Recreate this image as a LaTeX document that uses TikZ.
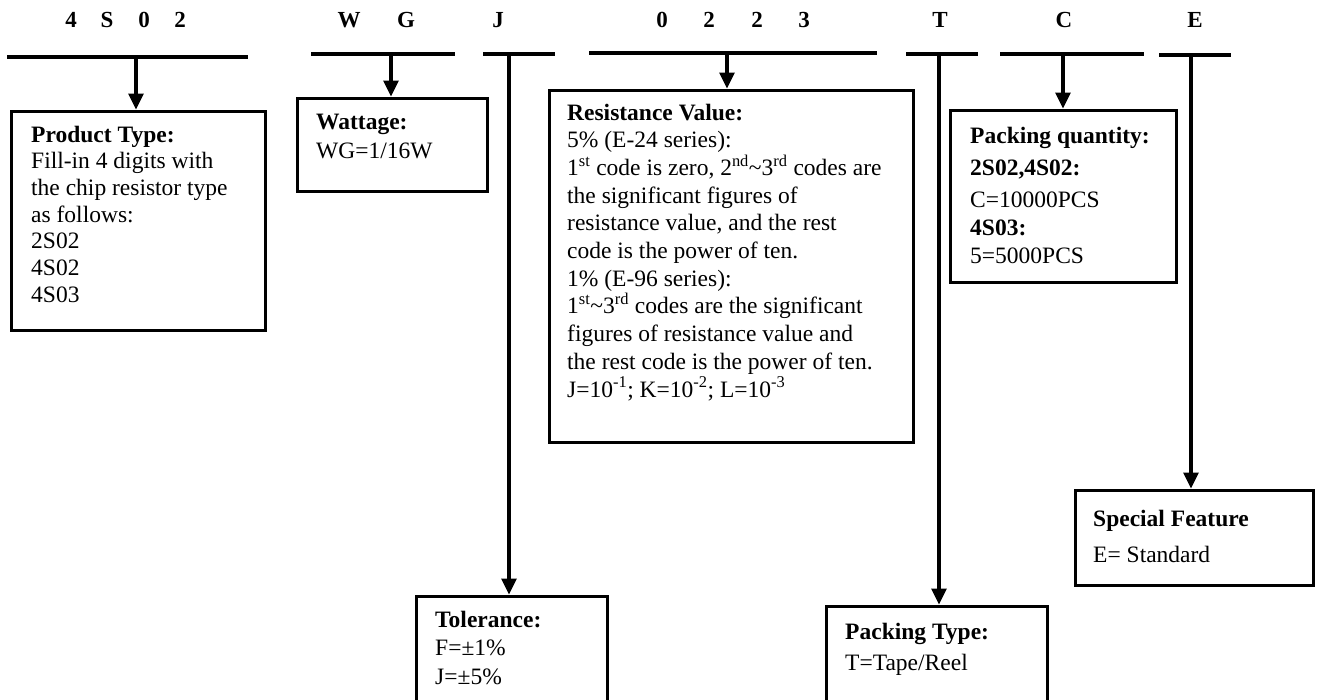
\documentclass[tikz,border=0pt]{standalone}
\usepackage{fontspec}
\setmainfont{Liberation Serif}
\usetikzlibrary{arrows.meta}
\tikzset{
  box/.style={draw, line width=3.2pt, anchor=north west, inner sep=0pt},
  hline/.style={line width=3.4pt},
  arr/.style={line width=3.2pt, -{Triangle[length=16pt,width=15pt]}},
  txt/.style={anchor=base west, inner sep=0pt, font=\fontsize{23.5}{27}\selectfont},
  btxt/.style={anchor=base west, inner sep=0pt, font=\fontsize{23.5}{27}\selectfont\bfseries},
  hdr/.style={anchor=base, inner sep=0pt, font=\fontsize{23}{27}\selectfont\bfseries},
}
\begin{document}
\begin{tikzpicture}[x=1pt,y=-1pt]
\useasboundingbox (0,0) rectangle (1320,699);
\clip (0,0) rectangle (1320,699);

% header characters
\foreach \c/\x in {4/71,S/107,0/144,2/180,W/349,G/406,J/498,0/662,2/709,2/757,3/804,T/940,C/1064,E/1195}
  \node[hdr] at (\x,27) {\c};

% header lines
\coordinate (l1a) at (7,57);   \coordinate (l1b) at (248,57);
\coordinate (l2a) at (311,54); \coordinate (l2b) at (455,54);
\coordinate (l3a) at (483,54); \coordinate (l3b) at (555,54);
\coordinate (l4a) at (589,53); \coordinate (l4b) at (877,53);
\coordinate (l5a) at (906,54); \coordinate (l5b) at (978,54);
\coordinate (l6a) at (1000,54);\coordinate (l6b) at (1144,54);
\coordinate (l7a) at (1159,55);\coordinate (l7b) at (1231,55);
\foreach \i in {1,...,7} \draw[hline] (l\i a) -- (l\i b);

% connector start points
\coordinate (m1) at (136,57);
\coordinate (m2) at (391,54);
\coordinate (m3) at (509,54);
\coordinate (m4) at (727,53);
\coordinate (m5) at (939,54);
\coordinate (m6) at (1063,54);
\coordinate (m7) at (1191,55);

% boxes
\node[box, minimum width=254pt, minimum height=219pt] (b1) at (9.5,109.5) {};
\node[box, minimum width=190pt, minimum height=93pt]  (bw) at (295.5,96.5) {};
\node[box, minimum width=364pt, minimum height=352pt] (br) at (547.5,88.5) {};
\node[box, minimum width=226pt, minimum height=172pt] (bq) at (948.5,108.5) {};
\node[box, minimum width=191pt, minimum height=140pt] (bt) at (414.5,594.5) {};
\node[box, minimum width=221pt, minimum height=130pt] (bp) at (824.5,604.5) {};
\node[box, minimum width=238pt, minimum height=95pt]  (bs) at (1073.5,488.5) {};

% connectors
\draw[arr] (m1) -- (m1 |- b1.north);
\draw[arr] (m2) -- (m2 |- bw.north);
\draw[arr] (m3) -- (m3 |- bt.north);
\draw[arr] (m4) -- (m4 |- br.north);
\draw[arr] (m5) -- (m5 |- bp.north);
\draw[arr] (m6) -- (m6 |- bq.north);
\draw[arr] (m7) -- (m7 |- bs.north);

% Product type
\node[btxt] at (31,142) {Product Type:};
\node[txt] at (31,168) {Fill-in 4 digits with};
\node[txt] at (31,195) {the chip resistor type};
\node[txt] at (31,222) {as follows:};
\node[txt] at (31,248) {2S02};
\node[txt] at (31,275) {4S02};
\node[txt] at (31,302) {4S03};

% Wattage
\node[btxt] at (316,129) {Wattage:};
\node[txt] at (316,158) {WG=1/16W};

% Resistance value
\node[btxt] at (567,120) {Resistance Value:};
\node[txt] at (567,147.7) {5\% (E-24 series):};
\node[txt] at (567,175.4) {1\textsuperscript{st} code is zero, 2\textsuperscript{nd}\textasciitilde 3\textsuperscript{rd} codes are};
\node[txt] at (567,203.1) {the significant figures of};
\node[txt] at (567,230.8) {resistance value, and the rest};
\node[txt] at (567,258.5) {code is the power of ten.};
\node[txt] at (567,286.2) {1\% (E-96 series):};
\node[txt] at (567,313.9) {1\textsuperscript{st}\textasciitilde 3\textsuperscript{rd} codes are the significant};
\node[txt] at (567,341.6) {figures of resistance value and};
\node[txt] at (567,369.3) {the rest code is the power of ten.};
\node[txt] at (567,397) {J=10\textsuperscript{-1}; K=10\textsuperscript{-2}; L=10\textsuperscript{-3}};

% Packing quantity
\node[btxt] at (970,143) {Packing quantity:};
\node[btxt] at (970,175) {2S02,4S02:};
\node[txt] at (970,207) {C=10000PCS};
\node[btxt] at (970,235) {4S03:};
\node[txt] at (970,263) {5=5000PCS};

% Tolerance
\node[btxt] at (435,627) {Tolerance:};
\node[txt] at (435,655) {F=±1\%};
\node[txt] at (435,684) {J=±5\%};

% Packing type
\node[btxt] at (845,639) {Packing Type:};
\node[txt] at (845,670) {T=Tape/Reel};

% Special feature
\node[btxt] at (1093,526) {Special Feature};
\node[txt] at (1093,562) {E= Standard};
\end{tikzpicture}
\end{document}
